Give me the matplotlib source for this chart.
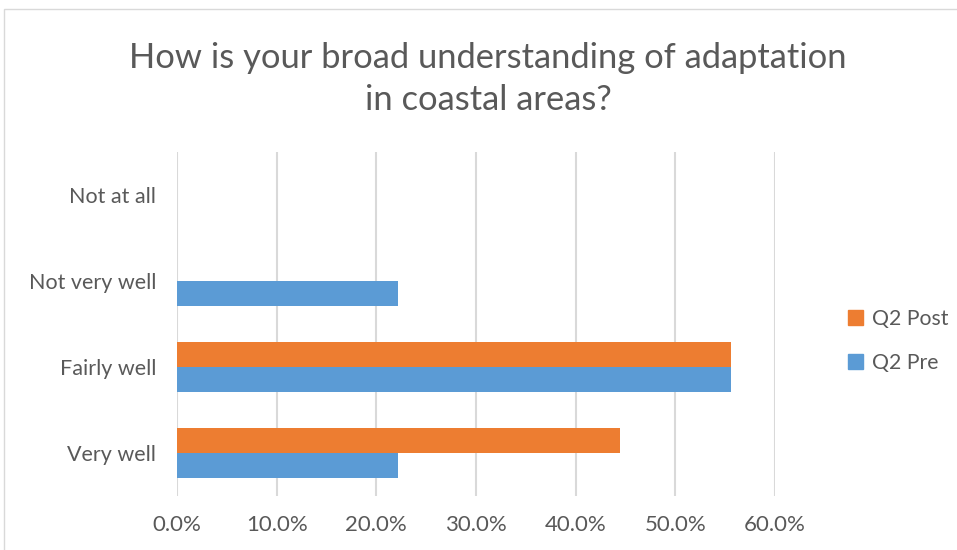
import matplotlib
matplotlib.use("Agg")
import matplotlib.pyplot as plt
from matplotlib.patches import Rectangle, Patch
from matplotlib.ticker import FuncFormatter, MultipleLocator

plt.rcParams['font.family'] = ['Lato', 'DejaVu Sans']

categories = ["Very well", "Fairly well", "Not very well", "Not at all"]
q2_pre = [0.222, 0.556, 0.222, 0.0]
q2_post = [0.444, 0.556, 0.0, 0.0]
series_names = ["Q2 Pre", "Q2 Post"]
title = "How is your broad understanding of adaptation\nin coastal areas?"

blue = "#5b9bd5"
orange = "#ed7d31"
text_color = "#595959"
grid_color = "#d9d9d9"

fig = plt.figure(figsize=(9.57, 5.5), dpi=100)
fig.patch.set_facecolor("white")

# outer chart border
fig.add_artist(Rectangle((4 / 957, -0.05), 1.2, 1.05 - 9 / 550,
                         transform=fig.transFigure, fill=False,
                         edgecolor="#d9d9d9", linewidth=1.0))

ax = fig.add_axes([177 / 957, 54 / 550, (775 - 177) / 957, (496 - 152) / 550])

y = list(range(len(categories)))
h = 0.285
ax.barh([v - h / 2 for v in y], q2_pre, height=h, color=blue, label=series_names[0], zorder=3)
ax.barh([v + h / 2 for v in y], q2_post, height=h, color=orange, label=series_names[1], zorder=3)

ax.set_xlim(0, 0.6)
ax.set_ylim(-0.5, len(categories) - 0.5)
ax.xaxis.set_major_locator(MultipleLocator(0.1))
ax.xaxis.set_major_formatter(FuncFormatter(lambda v, p: f"{v * 100:.1f}%"))
ax.set_yticks(y)
ax.set_yticklabels(categories)
ax.grid(axis="x", color=grid_color, linewidth=1.5, zorder=0)
for s in ax.spines.values():
    s.set_visible(False)
ax.tick_params(axis="both", length=0, labelcolor=text_color)
ax.tick_params(axis="x", pad=14, labelsize=16)
ax.tick_params(axis="y", pad=15, labelsize=15.5)

fig.text(488 / 957, 1 - 79 / 550, title, ha="center", va="center",
         fontsize=24.8, color=text_color, linespacing=1.36)

handles = [Patch(color=orange, label="Q2 Post"), Patch(color=blue, label="Q2 Pre")]
fig.legend(handles=handles, loc="center left", bbox_to_anchor=(829 / 957, 1 - 341 / 550),
           frameon=False, fontsize=15.3, labelcolor=text_color,
           handlelength=0.7, handleheight=0.7, handletextpad=0.4, labelspacing=1.15)

fig.savefig("out.png", dpi=100)
